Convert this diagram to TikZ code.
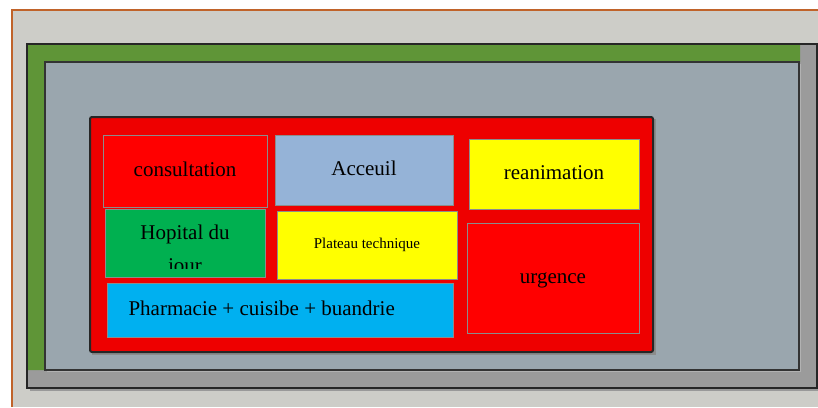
\documentclass[tikz,border=0pt]{standalone}
\usepackage{fontspec}
\setmainfont{Liberation Serif}
\definecolor{sheet}{HTML}{CDCDC8}
\definecolor{frameorange}{HTML}{C0632A}
\definecolor{wallgray}{HTML}{9B9B9B}
\definecolor{wallgreen}{HTML}{5F9537}
\definecolor{yard}{HTML}{9AA6AE}
\definecolor{blockred}{HTML}{EE0000}
\definecolor{roomred}{HTML}{FF0000}
\definecolor{roomblue}{HTML}{95B3D7}
\definecolor{roomyellow}{HTML}{FFFF00}
\definecolor{roomgreen}{HTML}{00B050}
\definecolor{roomcyan}{HTML}{00B0F0}
\tikzset{
  room/.style={draw=black!45, line width=0.8pt, inner sep=0pt, outer sep=0pt},
  label/.style={font=\fontsize{21}{25}\selectfont, text=black, anchor=base},
  smalllabel/.style={font=\fontsize{15}{18}\selectfont, text=black, anchor=base},
}
\begin{document}
\begin{tikzpicture}[x=1pt, y=-1pt]
\useasboundingbox (0,0) rectangle (818,407);
% page
\fill[white] (0,0) rectangle (818,407);
\fill[sheet] (12,10) rectangle (818,407);
\draw[frameorange, line width=1.5pt] (12,407) -- (12,10) -- (818,10);
% outer wall
\fill[black!40] (30,47) rectangle (820,391);
\fill[wallgray] (27,44) rectangle (817,388);
\fill[wallgreen] (27,44) -- (800,44) -- (800,62) -- (45,62) -- (45,370) -- (27,370) -- cycle;
\draw[black!85, line width=2pt] (27,44) rectangle (817,388);
% yard
\fill[black!30] (47,64) rectangle (801,372);
\fill[yard] (45,62) rectangle (799,370);
\draw[black!80, line width=1.4pt] (45,62) rectangle (799,370);
% main block
\fill[black!45] (92,119) rectangle (656,355);
\draw[black!85, fill=blockred, line width=2pt, rounded corners=2pt] (90,117) rectangle (653,352);
% rooms
\node[room, fill=roomred, minimum width=164pt, minimum height=72pt] (consultation) at (185,171) {};
\node[label] at (185,176) {consultation};
\node[room, fill=roomblue, minimum width=178pt, minimum height=70pt] (acceuil) at (364,170) {};
\node[label] at (364,175) {Acceuil};
\node[room, fill=roomyellow, minimum width=170pt, minimum height=70pt] (reanimation) at (554,174) {};
\node[label] at (554,179) {reanimation};
\node[room, fill=roomgreen, minimum width=160pt, minimum height=68pt] (hopital) at (185,243) {};
\begin{scope}
  \clip (105,209) rectangle (265,268);
  \node[label] (hopitaltext) at (185,239) {Hopital du};
  \node[label] (jourtext) at (185,272) {jour};
\end{scope}
\node[room, fill=roomyellow, minimum width=180pt, minimum height=68pt] (plateau) at (367,245) {};
\node[smalllabel] at (367,248) {Plateau technique};
\node[room, fill=roomred, minimum width=172pt, minimum height=110pt] (urgence) at (553,278) {};
\node[label] at (553,283) {urgence};
\node[room, fill=roomcyan, minimum width=346pt, minimum height=54pt] (pharmacie) at (280,310) {};
\node[label, anchor=base west] at (125,315) {Pharmacie + cuisibe + buandrie};
\end{tikzpicture}
\end{document}
